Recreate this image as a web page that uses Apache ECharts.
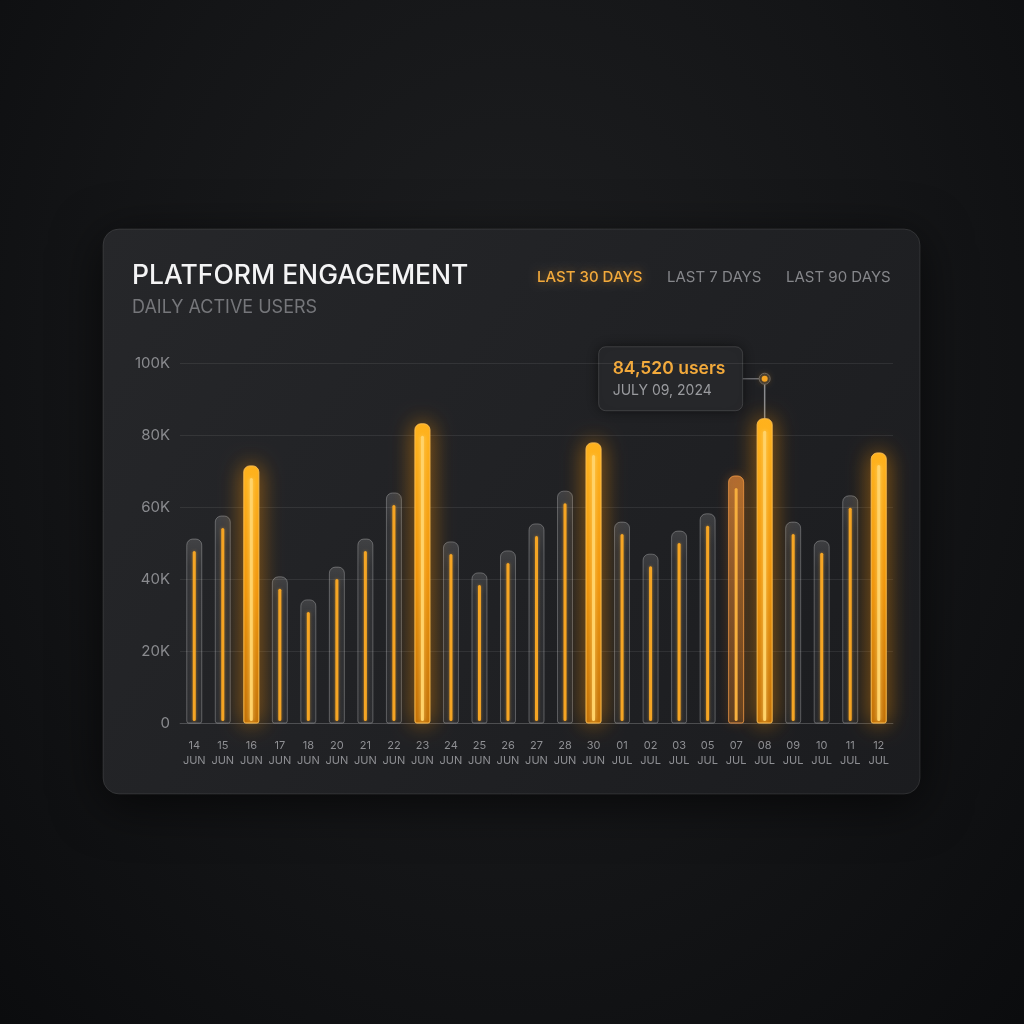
<!DOCTYPE html>
<html>
<head>
<meta charset="utf-8">
<script src="https://cdn.jsdelivr.net/npm/echarts@6/dist/echarts.min.js"></script>
<style>
  html, body { margin: 0; padding: 0; }
  body {
    width: 1024px; height: 1024px; overflow: hidden;
    background: radial-gradient(ellipse at 50% 35%, #1d1e20 0%, #141517 55%, #0b0c0e 100%);
  }
  #chart { width: 1024px; height: 1024px; }
</style>
</head>
<body>
<div id="chart"></div>
<script>
// daily active users, 14 Jun - 12 Jul
const days = ['14', '15', '16', '17', '18', '20', '21', '22', '23', '24', '25', '26', '27',
  '28', '30', '01', '02', '03', '05', '07', '08', '09', '10', '11', '12']
const months = ['JUN', 'JUN', 'JUN', 'JUN', 'JUN', 'JUN', 'JUN', 'JUN', 'JUN', 'JUN', 'JUN', 'JUN', 'JUN',
  'JUN', 'JUN', 'JUL', 'JUL', 'JUL', 'JUL', 'JUL', 'JUL', 'JUL', 'JUL', 'JUL', 'JUL']
const users = [51100, 57500, 71400, 40600, 34200, 43300, 51100, 63900, 83100, 50300, 41700, 47800, 55300,
  64400, 77800, 55800, 46900, 53300, 58100, 68600, 84520, 55800, 50600, 63100, 75000]
const yTicks = [0, 20000, 40000, 60000, 80000, 100000]
const tabs = ['LAST 30 DAYS', 'LAST 7 DAYS', 'LAST 90 DAYS']
const focusIndex = 20
const focusLabel = '84,520 users'
const focusDate = 'JULY 09, 2024'

const ORANGE = '#f5a524'
const FONT = 'Inter, "Noto Sans", sans-serif'

const chart = echarts.init(document.getElementById('chart'), null, { renderer: 'canvas' })

function renderBar(params, api) {
  const idx = api.value(0)
  const val = api.value(1)
  const top = api.coord([idx, val])
  const base = api.coord([idx, 0])
  const w = 15
  const x = top[0] - w / 2
  const h = base[1] - top[1]
  const level = val >= 70000 ? 2 : val >= 65000 ? 1 : 0
  let outer, inner
  if (level === 2) {
    outer = {
      fill: new echarts.graphic.LinearGradient(0, 0, 0, 1, [
        { offset: 0, color: '#ffb41e' },
        { offset: 0.5, color: '#f0960c' },
        { offset: 1, color: '#c07008' },
      ]),
      stroke: 'rgba(255,190,80,0.6)', lineWidth: 1,
      shadowBlur: 22, shadowColor: 'rgba(255,150,0,0.6)',
    }
    inner = { fill: '#ffd36a', shadowBlur: 4, shadowColor: 'rgba(255,220,120,0.8)' }
  } else if (level === 1) {
    outer = {
      fill: new echarts.graphic.LinearGradient(0, 0, 0, 1, [
        { offset: 0, color: 'rgba(215,130,55,0.75)' },
        { offset: 1, color: 'rgba(140,85,35,0.45)' },
      ]),
      stroke: 'rgba(235,150,70,0.55)', lineWidth: 1,
      shadowBlur: 12, shadowColor: 'rgba(255,140,30,0.35)',
    }
    inner = { fill: '#f7b040' }
  } else {
    outer = {
      fill: new echarts.graphic.LinearGradient(0, 0, 0, 1, [
        { offset: 0, color: 'rgba(255,255,255,0.14)' },
        { offset: 0.15, color: 'rgba(255,255,255,0.08)' },
        { offset: 1, color: 'rgba(255,255,255,0.05)' },
      ]),
      stroke: 'rgba(255,255,255,0.14)', lineWidth: 1,
    }
    inner = { fill: ORANGE, shadowBlur: 3, shadowColor: 'rgba(245,165,36,0.6)' }
  }
  return {
    type: 'group',
    children: [
      { type: 'rect', shape: { x: x, y: top[1], width: w, height: h, r: [6, 6, 2, 2] }, style: outer },
      { type: 'rect', shape: { x: top[0] - 1.5, y: top[1] + 12, width: 3, height: h - 14, r: 1.5 }, style: inner },
    ],
  }
}

function staticGraphics() {
  return [
    {
      type: 'rect', id: 'card', z: -10, silent: true,
      shape: { x: 103, y: 229, width: 817, height: 565, r: 16 },
      style: {
        fill: new echarts.graphic.LinearGradient(0, 0, 1, 1, [
          { offset: 0, color: '#26272a' },
          { offset: 1, color: '#1b1c1f' },
        ]),
        stroke: 'rgba(255,255,255,0.10)', lineWidth: 1,
        shadowBlur: 50, shadowColor: 'rgba(0,0,0,0.65)', shadowOffsetY: 10,
      },
    },
    {
      type: 'text', id: 'tab0', x: 537, y: 277,
      style: {
        text: tabs[0], fill: '#f2a93b', font: '500 15px ' + FONT, verticalAlign: 'middle',
        textShadowBlur: 8, textShadowColor: 'rgba(245,160,40,0.45)',
      },
    },
    { type: 'text', id: 'tab1', x: 667, y: 277, style: { text: tabs[1], fill: '#85868a', font: '400 15px ' + FONT, verticalAlign: 'middle' } },
    { type: 'text', id: 'tab2', x: 786, y: 277, style: { text: tabs[2], fill: '#85868a', font: '400 15px ' + FONT, verticalAlign: 'middle' } },
  ]
}

chart.setOption({
  backgroundColor: 'transparent',
  animation: false,
  title: {
    text: 'PLATFORM ENGAGEMENT',
    subtext: 'DAILY ACTIVE USERS',
    left: 127, top: 258,
    itemGap: 9,
    textStyle: { color: '#f4f4f5', fontSize: 26.5, fontWeight: 500, fontFamily: FONT },
    subtextStyle: { color: '#75767a', fontSize: 18, fontWeight: 400, fontFamily: FONT },
  },
  grid: { left: 180, right: 131, top: 363, bottom: 301 },
  xAxis: {
    type: 'category',
    data: days.map((d, i) => d + ' ' + months[i]),
    axisLine: { show: true, lineStyle: { color: 'rgba(255,255,255,0.14)' } },
    axisTick: { show: false },
    axisLabel: {
      interval: 0, margin: 15, color: '#8e8f93', fontSize: 11, lineHeight: 15, fontFamily: FONT,
      formatter: (v) => v.replace(' ', '\n'),
    },
  },
  yAxis: {
    type: 'value',
    min: yTicks[0], max: yTicks[yTicks.length - 1], interval: yTicks[1] - yTicks[0],
    axisLine: { show: false },
    axisTick: { show: false },
    splitLine: { lineStyle: { color: 'rgba(255,255,255,0.08)' } },
    axisLabel: {
      margin: 10, color: '#8a8b8f', fontSize: 15, fontFamily: FONT,
      formatter: (v) => (v === 0 ? '0' : v / 1000 + 'K'),
    },
  },
  series: [{
    type: 'custom',
    renderItem: renderBar,
    data: users.map((v, i) => [i, v]),
    encode: { x: 0, y: 1 },
    clip: false,
  }],
  graphic: staticGraphics(),
})

// tooltip callout anchored to the focused bar
const barTop = chart.convertToPixel({ seriesIndex: 0 }, [focusIndex, users[focusIndex]])
const dot = [barTop[0], barTop[1] - 40]
const boxW = 144, boxH = 64
const boxX = dot[0] - 22 - boxW, boxY = dot[1] - boxH / 2

chart.setOption({
  graphic: staticGraphics().concat([
    { type: 'line', id: 'lnH', shape: { x1: boxX + boxW, y1: dot[1], x2: dot[0], y2: dot[1] }, style: { stroke: '#6a6b6f', lineWidth: 1.5 } },
    { type: 'line', id: 'lnV', shape: { x1: dot[0], y1: dot[1], x2: dot[0], y2: barTop[1] }, style: { stroke: '#8a8b8f', lineWidth: 1.5 } },
    {
      type: 'rect', id: 'tipBox',
      shape: { x: boxX, y: boxY, width: boxW, height: boxH, r: 7 },
      style: { fill: '#26272a', stroke: 'rgba(255,255,255,0.14)', lineWidth: 1, shadowBlur: 14, shadowColor: 'rgba(0,0,0,0.5)' },
    },
    { type: 'text', id: 'tipVal', x: boxX + 14, y: boxY + 22, style: { text: focusLabel, fill: '#f2a93b', font: '600 17.5px ' + FONT, verticalAlign: 'middle' } },
    { type: 'text', id: 'tipDate', x: boxX + 14, y: boxY + 44, style: { text: focusDate, fill: '#9a9b9f', font: '400 14px ' + FONT, verticalAlign: 'middle' } },
    { type: 'circle', id: 'dotO', shape: { cx: dot[0], cy: dot[1], r: 5.5 }, style: { fill: '#2b2c2f', stroke: '#606165', lineWidth: 1 } },
    { type: 'circle', id: 'dotI', shape: { cx: dot[0], cy: dot[1], r: 3 }, style: { fill: ORANGE, shadowBlur: 6, shadowColor: 'rgba(255,170,40,0.8)' } },
  ]),
})
</script>
</body>
</html>
